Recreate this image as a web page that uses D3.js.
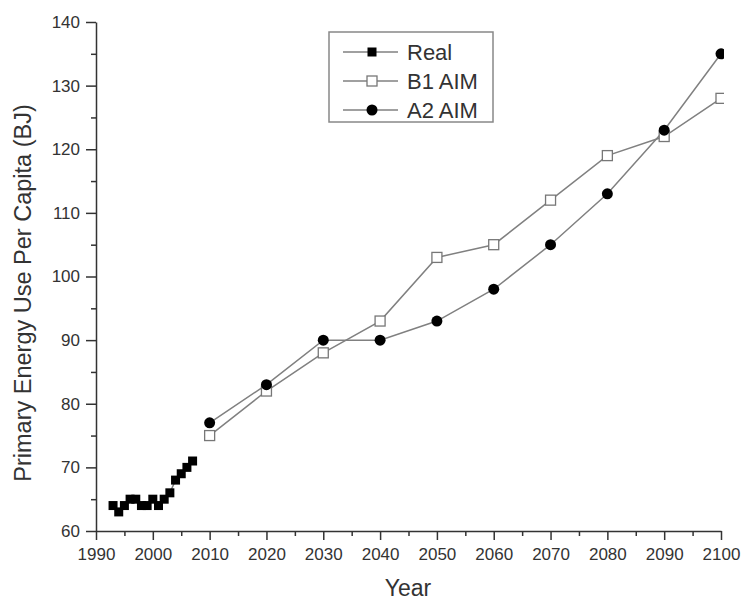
<!DOCTYPE html>
<html>
<head>
<meta charset="utf-8">
<script src="https://cdn.jsdelivr.net/npm/d3@7"></script>
<style>
  body { margin: 0; background: #fff; }
  svg { display: block; font-family: "Liberation Sans", Arial, sans-serif; }
</style>
</head>
<body>
<svg id="chart" width="745" height="603"></svg>
<script>
'use strict';

// data
const realYears = [1993, 1994, 1995, 1996, 1997, 1998, 1999, 2000, 2001, 2002, 2003, 2004, 2005, 2006, 2007];
const realValues = [64, 63, 64, 65, 65, 64, 64, 65, 64, 65, 66, 68, 69, 70, 71];
const aimYears = [2010, 2020, 2030, 2040, 2050, 2060, 2070, 2080, 2090, 2100];
const b1Values = [75, 82, 88, 93, 103, 105, 112, 119, 122, 128];
const a2Values = [77, 83, 90, 90, 93, 98, 105, 113, 123, 135];
const xTicks = [1990, 2000, 2010, 2020, 2030, 2040, 2050, 2060, 2070, 2080, 2090, 2100];
const yTicks = [60, 70, 80, 90, 100, 110, 120, 130, 140];
const legendLabels = ["Real", "B1 AIM", "A2 AIM"];

const LEFT = 96, RIGHT = 721, TOP = 22, BOTTOM = 531;
const AXIS_COLOR = "#333";
const LINE_COLOR = "#808080";
const TICK_FONT = 17;

const svg = d3.select("#chart");

const x = d3.scaleLinear().domain([1990, 2100]).range([LEFT, RIGHT]);
const y = d3.scaleLinear().domain([60, 140]).range([BOTTOM, TOP]);

svg.append("defs").append("clipPath").attr("id", "crop")
   .append("rect").attr("x", 0).attr("y", 0).attr("width", 724).attr("height", 603);

// minor ticks first, then major axes on top
const xMinor = d3.range(1995, 2100, 10);
const yMinor = d3.range(65, 140, 10);

svg.append("g")
   .attr("transform", `translate(0,${BOTTOM})`)
   .call(d3.axisBottom(x).tickValues(xMinor).tickSize(5).tickFormat(""))
   .call(g => g.select(".domain").remove())
   .call(g => g.selectAll("line").attr("stroke", AXIS_COLOR).attr("stroke-width", 1.5));

svg.append("g")
   .attr("transform", `translate(${LEFT},0)`)
   .call(d3.axisLeft(y).tickValues(yMinor).tickSize(5).tickFormat(""))
   .call(g => g.select(".domain").remove())
   .call(g => g.selectAll("line").attr("stroke", AXIS_COLOR).attr("stroke-width", 1.5));

const axisX = svg.append("g")
   .attr("transform", `translate(0,${BOTTOM})`)
   .call(d3.axisBottom(x).tickValues(xTicks).tickSize(9).tickSizeOuter(0).tickPadding(8).tickFormat(d3.format("d")));
axisX.select(".domain").attr("stroke", AXIS_COLOR).attr("stroke-width", 1.5);
axisX.selectAll("line").attr("stroke", AXIS_COLOR).attr("stroke-width", 1.5);
axisX.selectAll("text").attr("font-size", TICK_FONT).attr("fill", "#333").attr("font-family", "Liberation Sans, Arial, sans-serif");

const axisY = svg.append("g")
   .attr("transform", `translate(${LEFT},0)`)
   .call(d3.axisLeft(y).tickValues(yTicks).tickSize(10).tickSizeOuter(0).tickPadding(6));
axisY.select(".domain").attr("stroke", AXIS_COLOR).attr("stroke-width", 1.5);
axisY.selectAll("line").attr("stroke", AXIS_COLOR).attr("stroke-width", 1.5);
axisY.selectAll("text").attr("font-size", TICK_FONT).attr("fill", "#333").attr("font-family", "Liberation Sans, Arial, sans-serif");

svg.append("text")
   .attr("x", 408).attr("y", 596)
   .attr("text-anchor", "middle")
   .attr("font-size", 23).attr("fill", "#333")
   .text("Year");

svg.append("text")
   .attr("transform", "translate(31,293) rotate(-90)")
   .attr("text-anchor", "middle")
   .attr("font-size", 23.5).attr("fill", "#333")
   .text("Primary Energy Use Per Capita (BJ)");

// series
const realData = realYears.map((yr, i) => ({ year: yr, value: realValues[i] }));
const b1Data = aimYears.map((yr, i) => ({ year: yr, value: b1Values[i] }));
const a2Data = aimYears.map((yr, i) => ({ year: yr, value: a2Values[i] }));

const line = d3.line().x(d => x(d.year)).y(d => y(d.value));
const plot = svg.append("g").attr("clip-path", "url(#crop)");

[realData, b1Data, a2Data].forEach(data => {
   plot.append("path")
      .datum(data)
      .attr("d", line)
      .attr("fill", "none")
      .attr("stroke", LINE_COLOR)
      .attr("stroke-width", 1.5);
});

const SQ = 9;
plot.append("g").selectAll("rect")
   .data(realData)
   .join("rect")
   .attr("x", d => x(d.year) - SQ / 2)
   .attr("y", d => y(d.value) - SQ / 2)
   .attr("width", SQ).attr("height", SQ)
   .attr("fill", "#000");

plot.append("g").selectAll("rect")
   .data(b1Data)
   .join("rect")
   .attr("x", d => x(d.year) - 5)
   .attr("y", d => y(d.value) - 5)
   .attr("width", 10).attr("height", 10)
   .attr("fill", "#fff")
   .attr("stroke", "#777")
   .attr("stroke-width", 1.3);

plot.append("g").selectAll("circle")
   .data(a2Data)
   .join("circle")
   .attr("cx", d => x(d.year))
   .attr("cy", d => y(d.value))
   .attr("r", 5.5)
   .attr("fill", "#000");

// legend
const legend = svg.append("g").attr("transform", "translate(329,32)");
legend.append("rect")
   .attr("width", 164).attr("height", 90)
   .attr("fill", "#fff")
   .attr("stroke", "#888")
   .attr("stroke-width", 1.5);

legendLabels.forEach((label, i) => {
   const cy = 20 + i * 29;
   const row = legend.append("g").attr("transform", `translate(0,${cy})`);
   row.append("line")
      .attr("x1", 14).attr("x2", 69)
      .attr("stroke", LINE_COLOR).attr("stroke-width", 1.5);
   if (i === 0) {
      row.append("rect").attr("x", 43 - SQ / 2).attr("y", -SQ / 2)
         .attr("width", SQ).attr("height", SQ).attr("fill", "#000");
   } else if (i === 1) {
      row.append("rect").attr("x", 38).attr("y", -5)
         .attr("width", 10).attr("height", 10)
         .attr("fill", "#fff").attr("stroke", "#777").attr("stroke-width", 1.3);
   } else {
      row.append("circle").attr("cx", 43).attr("r", 5.5).attr("fill", "#000");
   }
   row.append("text")
      .attr("x", 78).attr("dy", "0.36em")
      .attr("font-size", 22).attr("fill", "#333")
      .text(label);
});
</script>
</body>
</html>
